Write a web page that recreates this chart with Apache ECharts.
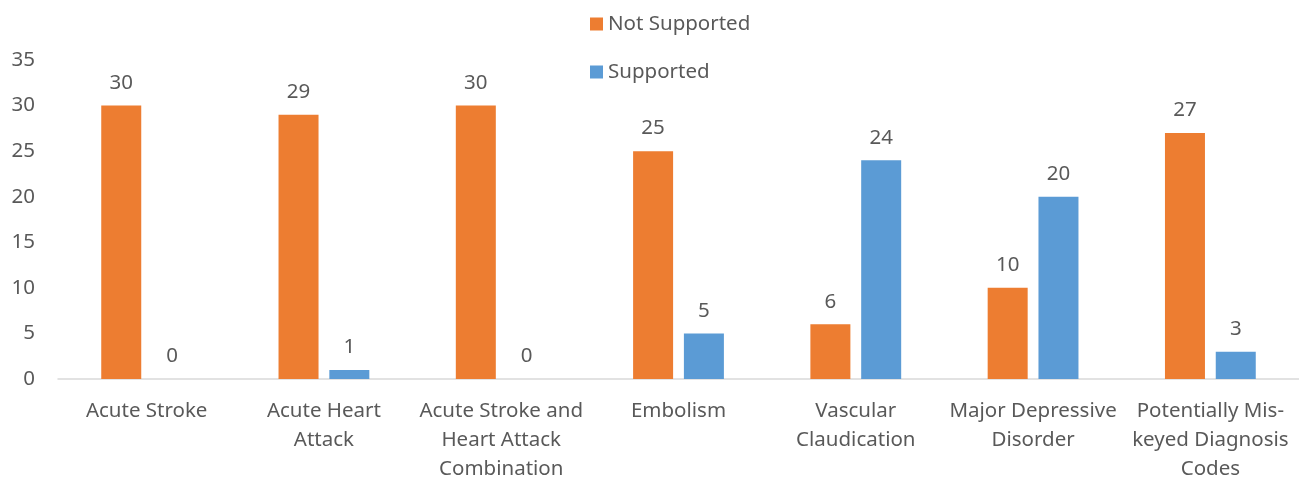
<!DOCTYPE html>
<html><head><meta charset="utf-8">
<script src="https://cdn.jsdelivr.net/npm/echarts@6/dist/echarts.min.js"></script>
<style>html,body{margin:0;padding:0;background:#fff}#c{width:1299px;height:484px}</style>
</head><body><div id="c"></div>
<script>
const categories = [
  "Acute Stroke",
  "Acute Heart\nAttack",
  "Acute Stroke and\nHeart Attack\nCombination",
  "Embolism",
  "Vascular\nClaudication",
  "Major Depressive\nDisorder",
  "Potentially Mis-\nkeyed Diagnosis\nCodes"
];
const notSupported = [30, 29, 30, 25, 6, 10, 27];
const supported = [0, 1, 0, 5, 24, 20, 3];
const yTicks = [0, 5, 10, 15, 20, 25, 30, 35];

const FONT = "Noto Sans";
const TXT = "#595959";
const FS = 20.5;
const chart = echarts.init(document.getElementById('c'), null, {renderer: 'canvas'});
chart.setOption({
  animation: false,
  textStyle: {fontFamily: FONT},
  legend: {
    orient: 'vertical', left: 590, top: 13, itemGap: 26, padding: 0,
    itemWidth: 13, itemHeight: 13, icon: 'rect',
    textStyle: {fontFamily: FONT, fontSize: FS, color: TXT, lineHeight: 22},
    data: ['Not Supported', 'Supported']
  },
  grid: {left: 58, right: -10, top: 60, bottom: 99, containLabel: false},
  xAxis: {
    type: 'category', data: categories,
    axisLine: {lineStyle: {color: '#D9D9D9', width: 1.5}},
    axisTick: {show: false},
    axisLabel: {fontFamily: FONT, fontSize: FS, color: TXT, margin: 18, lineHeight: 29, interval: 0}
  },
  yAxis: {
    type: 'value', min: yTicks[0], max: yTicks[yTicks.length - 1], interval: 5,
    axisLine: {show: false}, axisTick: {show: false},
    splitLine: {show: false},
    axisLabel: {fontFamily: FONT, fontSize: FS, color: TXT, margin: 23}
  },
  series: [
    {name: 'Not Supported', type: 'bar', data: notSupported, barWidth: 40, barGap: '27%',
     itemStyle: {color: '#ED7D31'},
     label: {show: true, position: 'top', distance: 12, fontFamily: FONT, fontSize: FS, color: TXT}},
    {name: 'Supported', type: 'bar', data: supported, barWidth: 40,
     itemStyle: {color: '#5B9BD5'},
     label: {show: true, position: 'top', distance: 12, fontFamily: FONT, fontSize: FS, color: TXT}}
  ]
});
</script></body></html>
